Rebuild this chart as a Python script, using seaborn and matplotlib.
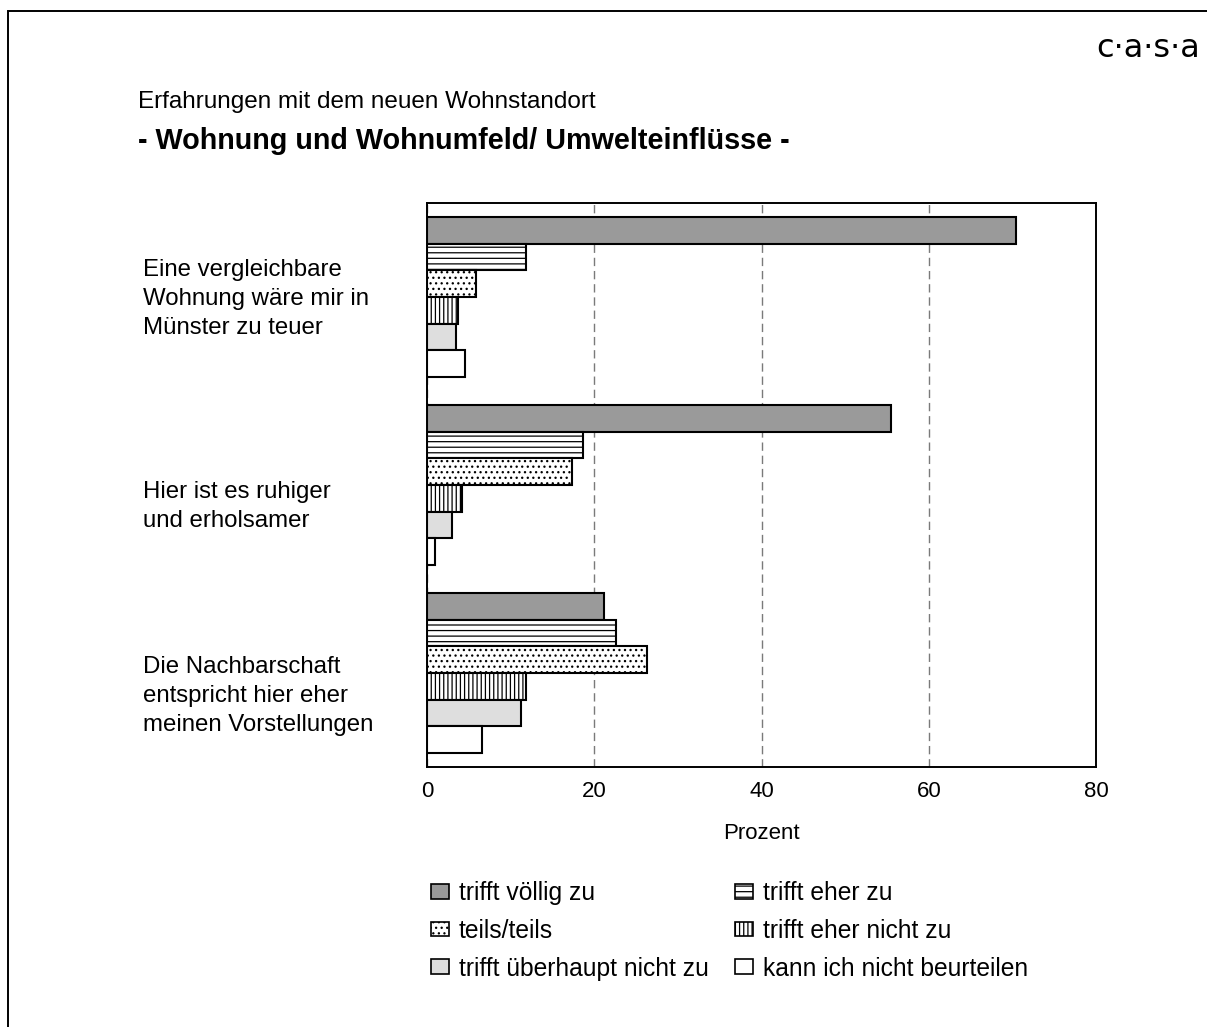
import matplotlib
matplotlib.use("Agg")
import numpy as np
import pandas as pd
import seaborn as sns
import matplotlib.pyplot as plt
from matplotlib import font_manager
from matplotlib.patches import Patch, Rectangle
from matplotlib.transforms import blended_transform_factory, offset_copy

# --- data -------------------------------------------------------------
statements = [
    "Eine vergleichbare\nWohnung wäre mir in\nMünster zu teuer",
    "Hier ist es ruhiger\nund erholsamer",
    "Die Nachbarschaft\nentspricht hier eher\nmeinen Vorstellungen",
]
answers = [
    "trifft völlig zu",
    "trifft eher zu",
    "teils/teils",
    "trifft eher nicht zu",
    "trifft überhaupt nicht zu",
    "kann ich nicht beurteilen",
]
voellig_zu = [70.4, 55.5, 21.2]
eher_zu = [11.8, 18.7, 22.6]
teils_teils = [5.8, 17.3, 26.3]
eher_nicht_zu = [3.7, 4.2, 11.8]
ueberhaupt_nicht_zu = [3.5, 3.0, 11.2]
kann_nicht_beurteilen = [4.5, 1.0, 6.6]
x_ticks = [0, 20, 40, 60, 80]

# --- styling ----------------------------------------------------------
fills = ["#9a9a9a", "white", "white", "white", "#dedede", "white"]
hatches = [None, "---", "...", "||||", None, None]

sns.set_theme(style="white")


def pick_family(candidates):
    for fam in candidates:
        try:
            font_manager.findfont(font_manager.FontProperties(family=fam),
                                  fallback_to_default=False)
            return fam
        except ValueError:
            continue
    return candidates[-1]


SANS = pick_family(["Liberation Sans", "DejaVu Sans"])
NARROW = pick_family(["Liberation Sans Narrow", "Arial Narrow", "Liberation Sans"])
tick_size = 17.5 if "Narrow" in NARROW else 16
plt.rcParams["font.family"] = [SANS, "DejaVu Sans"]
plt.rcParams["text.color"] = "black"
plt.rcParams["hatch.linewidth"] = 0.9
plt.rcParams["hatch.color"] = "black"

W, H = 1207, 1027
fig = plt.figure(figsize=(W / 100, H / 100), dpi=100)
fig.patch.set_facecolor("white")

# axes box in pixel terms
left, right, top, bottom = 427, 1096, 203, 767
ax = fig.add_axes([left / W, 1 - bottom / H, (right - left) / W, (bottom - top) / H])

series = [voellig_zu, eher_zu, teils_teils, eher_nicht_zu,
          ueberhaupt_nicht_zu, kann_nicht_beurteilen]
rows = []
for ans, vals in zip(answers, series):
    for st, v in zip(statements, vals):
        rows.append({"Aussage": st, "Antwort": ans, "Prozent": v})
df = pd.DataFrame(rows)

sns.barplot(
    data=df, y="Aussage", x="Prozent", hue="Antwort",
    order=statements, hue_order=answers, orient="h",
    palette=dict(zip(answers, fills)), saturation=1, width=0.85,
    edgecolor="black", linewidth=1.5, legend=False, errorbar=None, ax=ax,
)

for cont, fc, hatch in zip(ax.containers, fills, hatches):
    for bar in cont:
        bar.set_facecolor(fc)
        bar.set_edgecolor("black")
        if hatch:
            bar.set_hatch(hatch)

ax.set_xlim(0, 80)
ax.set_xticks(x_ticks)
ax.set_xticklabels([str(t) for t in x_ticks])
ax.set_axisbelow(True)
ax.xaxis.grid(True, linestyle=(0, (6, 3.5)), color="#7a7a7a", linewidth=1.0)
ax.yaxis.grid(False)
for sp in ax.spines.values():
    sp.set_visible(True)
    sp.set_color("black")
    sp.set_linewidth(1.4)

ax.tick_params(axis="x", length=0, pad=10, labelsize=tick_size,
               labelfontfamily=NARROW, colors="black")
ax.tick_params(axis="y", left=False, labelleft=False)
ax.set_ylabel("")
ax.set_xlabel("Prozent", fontsize=tick_size, family=NARROW, labelpad=15,
              color="black")

# statement labels, left aligned beside the bars (offset = last baseline)
lab_tr = blended_transform_factory(fig.transFigure, ax.transData)
last_line_shift_px = [37, 42, 58]
for i, (st, dy) in enumerate(zip(statements, last_line_shift_px)):
    tr = offset_copy(lab_tr, fig=fig, x=0, y=-dy * 72 / 100, units="points")
    fig.text(143 / W, i, st, transform=tr, ha="left", va="baseline",
             fontsize=17.3, linespacing=1.4, color="black")

# title block
fig.text(138 / W, 1 - 108 / H, "Erfahrungen mit dem neuen Wohnstandort",
         fontsize=17.5, ha="left", va="baseline", color="black")
fig.text(138 / W, 1 - 149 / H, "- Wohnung und Wohnumfeld/ Umwelteinflüsse -",
         fontsize=20.7, fontweight="bold", ha="left", va="baseline", color="black")

# brand mark
fig.text(1096 / W, 1 - 57 / H, "c·a·s·a", fontsize=23, family="DejaVu Sans",
         ha="left", va="baseline", color="black")

# outer frame
fig.add_artist(Rectangle((8 / W, -0.1), 1.2, 1 - 11 / H + 0.1,
                         transform=fig.transFigure, fill=False,
                         edgecolor="black", linewidth=1.4))

# legend, filled row by row
handles = [Patch(facecolor=fc, edgecolor="black", hatch=h, linewidth=1.2)
           for fc, h in zip(fills, hatches)]
order = [0, 2, 4, 1, 3, 5]
fig.legend([handles[i] for i in order], [answers[i] for i in order],
           ncol=2, loc="upper left", bbox_to_anchor=(431 / W, 1 - 881 / H),
           frameon=False, fontsize=17.7, labelcolor="black",
           handlelength=0.72, handleheight=0.55,
           handletextpad=0.4, columnspacing=1.1, labelspacing=0.56,
           borderpad=0, borderaxespad=0)

fig.savefig("out.png", dpi=100, facecolor="white")
